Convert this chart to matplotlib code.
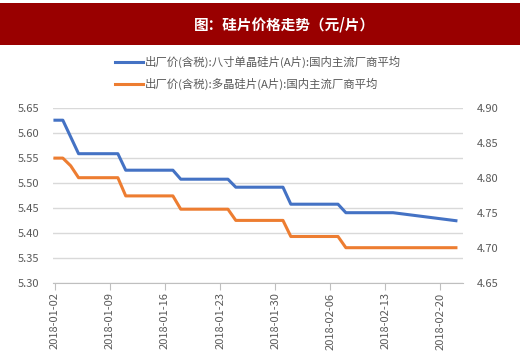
import matplotlib
matplotlib.use("Agg")
import matplotlib.pyplot as plt
import matplotlib.dates as mdates
import numpy as np
import datetime as dt

plt.rcParams['font.family'] = ['Noto Sans CJK SC', 'DejaVu Sans']

title = "图：硅片价格走势（元/片）"
series_mono_name = "出厂价(含税):八寸单晶硅片(A片):国内主流厂商平均"
series_poly_name = "出厂价(含税):多晶硅片(A片):国内主流厂商平均"

mono_dates = ["2018-01-02", "2018-01-03", "2018-01-05", "2018-01-10", "2018-01-11",
              "2018-01-17", "2018-01-18", "2018-01-24", "2018-01-25", "2018-01-31",
              "2018-02-01", "2018-02-07", "2018-02-08", "2018-02-14", "2018-02-22"]
mono_values = [5.625, 5.625, 5.558, 5.558, 5.525,
               5.525, 5.507, 5.507, 5.491, 5.491,
               5.457, 5.457, 5.440, 5.440, 5.424]

poly_dates = ["2018-01-02", "2018-01-03", "2018-01-04", "2018-01-05", "2018-01-10",
              "2018-01-11", "2018-01-17", "2018-01-18", "2018-01-24", "2018-01-25",
              "2018-01-31", "2018-02-01", "2018-02-07", "2018-02-08", "2018-02-22"]
poly_values = [4.828, 4.828, 4.817, 4.800, 4.800,
               4.774, 4.774, 4.755, 4.755, 4.739,
               4.739, 4.716, 4.716, 4.700, 4.700]

tick_dates = ["2018-01-02", "2018-01-09", "2018-01-16", "2018-01-23",
              "2018-01-30", "2018-02-06", "2018-02-13", "2018-02-20"]
left_ticks = [5.30, 5.35, 5.40, 5.45, 5.50, 5.55, 5.60, 5.65]
right_ticks = [4.65, 4.70, 4.75, 4.80, 4.85, 4.90]

def to_num(ds):
    return [mdates.date2num(dt.datetime.strptime(d, "%Y-%m-%d")) for d in ds]

W, H = 520, 352
fig = plt.figure(figsize=(W/100, H/100), dpi=100)
fig.patch.set_facecolor('white')

# title banner
fig.patches.append(plt.Rectangle((0, 1 - 45/H), 1, 42/H, transform=fig.transFigure,
                                 facecolor='#990000', edgecolor='none', zorder=0))
fig.text(284/W, 1 - 24/H, title, color='white', fontsize=10.5, fontweight='bold',
         ha='center', va='center')

ax = fig.add_axes([53/W, 1 - 282.7/H, (463-53)/W, (282.7-107.7)/H])
ax2 = ax.twinx()

grey = '#595959'
blue = '#4472C4'
orange = '#ED7D31'

ax.plot(to_num(mono_dates), mono_values, color=blue, lw=2.2, solid_joinstyle='round', zorder=3)
ax2.plot(to_num(poly_dates), poly_values, color=orange, lw=2.2, solid_joinstyle='round', zorder=3)

x0 = to_num(["2018-01-02"])[0]
ax.set_xlim(x0 - 0.25, x0 + 51.9)
ax.set_ylim(5.30, 5.65)
ax2.set_ylim(4.65, 4.90)
ax.set_yticks(left_ticks)
ax.set_yticklabels([f"{v:.2f}" for v in left_ticks])
ax2.set_yticks(right_ticks)
ax2.set_yticklabels([f"{v:.2f}" for v in right_ticks])
ax.set_xticks(to_num(tick_dates))
ax.set_xticklabels(tick_dates, rotation=90)

ax.grid(axis='y', color='#D9D9D9', lw=1)
ax.set_axisbelow(True)
for a in (ax, ax2):
    for s in ['top', 'right', 'left']:
        a.spines[s].set_visible(False)
    a.spines['bottom'].set_visible(False)
ax.spines['bottom'].set_visible(True)
ax.spines['bottom'].set_color('#BFBFBF')
ax.tick_params(axis='x', colors='#BFBFBF', labelcolor=grey, length=5, labelsize=8, pad=2)
ax.tick_params(axis='y', length=0, labelcolor=grey, labelsize=8, pad=10)
ax2.tick_params(axis='y', length=0, labelcolor=grey, labelsize=8, pad=10)

# legend
for i, (name, col) in enumerate([(series_mono_name, blue), (series_poly_name, orange)]):
    y = 1 - (62 + i*22)/H
    fig.add_artist(plt.Line2D([115/W, 143/W], [y, y], color=col, lw=2.2, transform=fig.transFigure))
    fig.text(145/W, y, name, color=grey, fontsize=8.2, ha='left', va='center')

fig.savefig("out.png", dpi=100)
